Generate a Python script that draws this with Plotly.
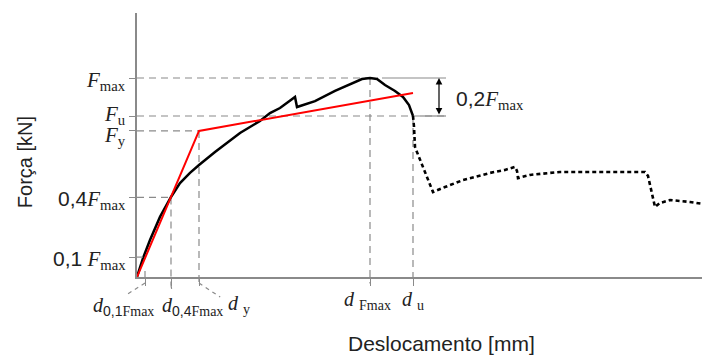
import plotly.graph_objects as go

# ---- data (x in mm-like units, y as fraction of Fmax) ----
X_MAX = 57.3
Y_MAX = 1.3266

y_levels = {"Fmax": 1.0, "Fu": 0.809, "Fy": 0.734, "F04": 0.4, "F01": 0.1}
x_levels = {"d01": 0.8, "d04": 3.4, "dy": 6.2, "dFmax": 23.3, "du": 27.6}

curve_x = [0, 0.6, 1.3, 2.3, 3.4, 4.3, 5.3, 6.2, 7.8, 10.3, 12.3, 13.3, 14.3, 15.8, 16.0,
           17.8, 19.8, 21.5, 22.5, 23.3, 24.0, 24.8, 25.8, 26.6, 27.2, 27.6]
curve_y = [0, 0.095, 0.186, 0.302, 0.402, 0.472, 0.523, 0.563, 0.628, 0.724, 0.784, 0.824,
           0.849, 0.905, 0.854, 0.884, 0.935, 0.975, 0.995, 1.0, 0.995, 0.965, 0.935, 0.905,
           0.864, 0.809]

post_x = [27.6, 27.7, 27.8, 28.3, 28.8, 29.6, 30.8, 32.6, 35.3, 36.8, 37.8, 38.0, 38.1, 39.3,
          42.3, 46.3, 50.8, 51.1, 51.3, 51.5, 51.8, 52.3, 53.3, 55.3, 57.3]
post_y = [0.809, 0.754, 0.653, 0.588, 0.523, 0.427, 0.452, 0.487, 0.523, 0.538, 0.553, 0.533,
          0.497, 0.513, 0.528, 0.528, 0.528, 0.508, 0.462, 0.407, 0.352, 0.372, 0.387, 0.377,
          0.362]

bilinear_x = [0, 6.2, 27.6]
bilinear_y = [0, 0.734, 0.925]

SERIF = "Liberation Serif"
SANS = "Liberation Sans"
GRAY = "#8a8a8a"
TXT = "#222222"


def px(xd):
    return xd / X_MAX


def py(yd):
    return yd / Y_MAX


fig = go.Figure()
fig.add_trace(go.Scatter(x=curve_x, y=curve_y, mode="lines",
                         line=dict(color="black", width=2.5), hoverinfo="skip"))
fig.add_trace(go.Scatter(x=post_x, y=post_y, mode="lines",
                         line=dict(color="black", width=2.6, dash="4px,3px"), hoverinfo="skip"))
fig.add_trace(go.Scatter(x=bilinear_x, y=bilinear_y, mode="lines",
                         line=dict(color="#ff0000", width=2), hoverinfo="skip"))

dash = "7px,5px"
shapes = []
# horizontal dashed guides
shapes.append(dict(type="line", xref="x", yref="y", x0=0, x1=x_levels["dFmax"] + 0.8,
                   y0=y_levels["Fmax"], y1=y_levels["Fmax"], line=dict(color=GRAY, width=1.2, dash=dash), layer="below"))
shapes.append(dict(type="line", xref="x", yref="y", x0=0, x1=x_levels["du"] + 3.3,
                   y0=y_levels["Fu"], y1=y_levels["Fu"], line=dict(color=GRAY, width=1.2, dash=dash), layer="below"))
shapes.append(dict(type="line", xref="x", yref="y", x0=0, x1=x_levels["dy"],
                   y0=y_levels["Fy"], y1=y_levels["Fy"], line=dict(color=GRAY, width=1.2, dash=dash), layer="below"))
shapes.append(dict(type="line", xref="x", yref="y", x0=0, x1=x_levels["d04"],
                   y0=y_levels["F04"], y1=y_levels["F04"], line=dict(color=GRAY, width=1.2, dash=dash), layer="below"))
# solid bracket lines
shapes.append(dict(type="line", xref="x", yref="y", x0=x_levels["dFmax"] + 1.2, x1=x_levels["du"] + 3.3,
                   y0=y_levels["Fmax"], y1=y_levels["Fmax"], line=dict(color=GRAY, width=1.2)))
shapes.append(dict(type="line", xref="x", yref="y", x0=x_levels["du"] + 0.7, x1=x_levels["du"] + 3.3,
                   y0=y_levels["Fu"], y1=y_levels["Fu"], line=dict(color=GRAY, width=1.2)))
# vertical dashed guides (extend below the x axis)
for key, ylev, ybot in [("d04", "F04", -0.03), ("dy", "Fy", -0.023), ("dFmax", "Fmax", -0.025), ("du", "Fu", -0.025)]:
    shapes.append(dict(type="line", xref="x", yref="paper", x0=x_levels[key], x1=x_levels[key],
                       y0=py(y_levels[ylev]), y1=ybot, line=dict(color=GRAY, width=1.2, dash=dash), layer="below"))
# leader lines to labels
shapes.append(dict(type="line", xref="paper", yref="paper", x0=px(x_levels["d01"]), x1=px(x_levels["d01"]) - 0.03,
                   y0=-0.023, y1=-0.064, line=dict(color=GRAY, width=1.2, dash="4px,4px")))
shapes.append(dict(type="line", xref="paper", yref="paper", x0=px(x_levels["d04"]), x1=px(x_levels["d04"]) + 0.002,
                   y0=-0.03, y1=-0.058, line=dict(color=GRAY, width=1.2, dash="4px,4px")))
shapes.append(dict(type="line", xref="paper", yref="paper", x0=px(x_levels["dy"]), x1=px(x_levels["dy"]) + 0.037,
                   y0=-0.023, y1=-0.076, line=dict(color=GRAY, width=1.2, dash="4px,4px")))
# small crossing ticks
shapes.append(dict(type="line", xref="x", yref="y", x0=0, x1=0.6, y0=y_levels["F01"], y1=y_levels["F01"],
                   line=dict(color=GRAY, width=1.2)))
shapes.append(dict(type="line", xref="x", yref="y", x0=x_levels["d01"], x1=x_levels["d01"], y0=0, y1=0.03,
                   line=dict(color=GRAY, width=1.2)))

sp = lambda t: '<span style="font-family:%s">%s</span>' % (SANS, t)
y_labels = {
    "Fmax": ("<i>F</i><sub>max</sub>", -3),
    "Fu": ("<i>F</i><sub>u</sub>", 1),
    "Fy": ("<i>F</i><sub>y</sub>", -5),
    "F04": (sp("0,4") + "<i>F</i><sub>max</sub>", -3),
    "F01": (sp("0,1") + " <i>F</i><sub>max</sub>", -3),
}
x_labels = {
    "d01": ("<i>d</i><sub>" + sp("0,1") + "Fmax</sub>", -0.0244, -0.112),
    "d04": ("<i>d</i><sub>" + sp("0,4") + "Fmax</sub>", 0.0969, -0.112),
    "dy": ("<i>d</i> <sub>y</sub>", 0.178, -0.105),
    "dFmax": ("<i>d</i> <sub>Fmax</sub>", 0.403, -0.09),
    "du": ("<i>d</i> <sub>u</sub>", 0.482, -0.09),
}

annotations = []
for k, (t, ys) in y_labels.items():
    annotations.append(dict(text=t, xref="paper", yref="y", x=-0.0175, y=y_levels[k], xanchor="right",
                            yanchor="middle", yshift=ys, showarrow=False, borderpad=0,
                            font=dict(family=SERIF, size=21, color=TXT)))
for k, (t, xp, yp) in x_labels.items():
    annotations.append(dict(text=t, xref="paper", yref="paper", x=xp, y=yp, xanchor="center",
                            yanchor="middle", showarrow=False, borderpad=0,
                            font=dict(family=SERIF, size=20, color=TXT)))
# 0,2 Fmax bracket
annotations.append(dict(text="", xref="x", yref="y", axref="x", ayref="y",
                        x=30.2, y=y_levels["Fmax"], ax=30.2, ay=y_levels["Fu"],
                        showarrow=True, arrowhead=2, startarrowhead=2, arrowside="end+start",
                        arrowsize=1.1, arrowwidth=1.2, arrowcolor="black", standoff=0, startstandoff=0))
annotations.append(dict(text=sp("0,2") + "<i>F</i><sub>max</sub>", xref="x", yref="y", x=31.8, y=0.889,
                        xanchor="left", yanchor="middle", showarrow=False, borderpad=0,
                        font=dict(family=SERIF, size=21, color=TXT)))
# axis titles
annotations.append(dict(text="Força [kN]", xref="paper", yref="paper", x=-0.195, y=0.436, textangle=-90,
                        showarrow=False, xanchor="center", yanchor="middle",
                        font=dict(family=SANS, size=20, color=TXT)))
annotations.append(dict(text="Deslocamento [mm]", xref="paper", yref="paper", x=0.532, y=-0.25,
                        showarrow=False, xanchor="center", yanchor="middle",
                        font=dict(family=SANS, size=21, color=TXT)))

# the page body adds an 8px margin, so the figure is 8px smaller and the plot area shifted by it
fig.update_layout(
    width=702, height=348,
    margin=dict(l=129, r=0, t=5, b=79, autoexpand=False),
    paper_bgcolor="white", plot_bgcolor="white",
    showlegend=False,
    shapes=shapes,
    annotations=annotations,
    xaxis=dict(range=[0, X_MAX], showgrid=False, zeroline=False, showline=True, linecolor=GRAY,
               linewidth=1.5, ticks="outside", ticklen=7, tickcolor=GRAY, tickwidth=1.2,
               tickvals=list(x_levels.values()), showticklabels=False, fixedrange=True),
    yaxis=dict(range=[0, Y_MAX], showgrid=False, zeroline=False, showline=True, linecolor=GRAY,
               linewidth=1.5, ticks="outside", ticklen=6, tickcolor=GRAY, tickwidth=1.2,
               tickvals=list(y_levels.values()), showticklabels=False, fixedrange=True),
)

fig.write_html("out.html")
